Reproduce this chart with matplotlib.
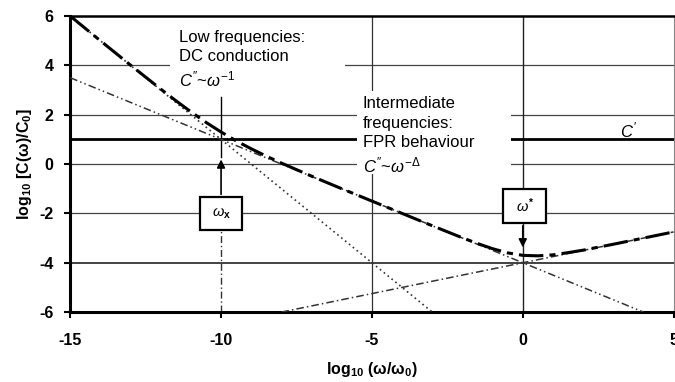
import matplotlib
matplotlib.use("Agg")
from matplotlib import pyplot as plt
from matplotlib.patches import Rectangle

plt.rcParams['font.family'] = ['Liberation Sans', 'DejaVu Sans']
plt.rcParams['mathtext.fontset'] = 'custom'
plt.rcParams['mathtext.rm'] = 'Liberation Sans'
plt.rcParams['mathtext.it'] = 'Liberation Sans:italic'
plt.rcParams['mathtext.bf'] = 'Liberation Sans:bold'
plt.rcParams['axes.unicode_minus'] = False

# axes
x_ticks = [-15, -10, -5, 0, 5]
y_ticks = [-6, -4, -2, 0, 2, 4, 6]

# C' (real part) : flat
c_real_x = [-15, 5]
c_real_y = [1, 1]

# DC conduction C'' ~ w^-1
dc_x = [-15, -3]
dc_y = [6, -6]

# FPR C'' ~ w^-delta
fpr_x = [-15, 4]
fpr_y = [3.5, -6]

# high frequency branch
hf_x = [-8, 5]
hf_y = [-6, -2.75]

# total C''
tot_x = [-15, -14, -13, -12, -11.5, -11, -10.5, -10, -9.5, -9, -8.5, -8, -7, -6,
         -5, -4, -3, -2, -1.5, -1, -0.5, 0, 0.5, 1, 1.5, 2, 3, 4, 5]
tot_y = [6.00, 5.00, 4.01, 3.04, 2.57, 2.12, 1.69, 1.30, 0.94, 0.62, 0.32, 0.04, -0.49, -1.00,
         -1.50, -2.00, -2.50, -2.99, -3.22, -3.43, -3.60, -3.70, -3.72, -3.68, -3.59, -3.49, -3.25, -3.00, -2.75]

fig = plt.figure(figsize=(6.75, 3.82), dpi=100)
ax = fig.add_axes([0.104, 0.183, 0.894, 0.775])
ax.set_xlim(-15, 5)
ax.set_ylim(-6, 6)

# grid
for yv in [4, 2, 0, -2]:
    ax.axhline(yv, color='#444444', lw=0.9, zorder=1)
ax.axhline(-4, color='#222222', lw=1.2, zorder=1)
ax.axvline(-5, color='#333333', lw=0.9, zorder=1)
ax.axvline(0, color='#222222', lw=1.0, zorder=1)
ax.plot(c_real_x, c_real_y, color='black', lw=2.0, zorder=1.2)

# white areas behind the text blocks
ax.add_patch(Rectangle((-11.7, 2.8), 5.8, 2.95, facecolor='white', edgecolor='none', zorder=1.5))
ax.add_patch(Rectangle((-5.5, -0.4), 5.1, 3.35, facecolor='white', edgecolor='none', zorder=1.5))

# curves
ax.plot(dc_x, dc_y, color='#333333', lw=1.2, ls=(0, (1, 2)), zorder=3)
ax.plot(fpr_x, fpr_y, color='#333333', lw=1.1, ls=(0, (5, 2, 1, 2, 1, 2)), zorder=3)
ax.plot(hf_x, hf_y, color='#333333', lw=1.1, ls=(0, (5, 2, 1, 2)), zorder=3)
ax.plot(tot_x, tot_y, color='black', lw=2.2, ls=(0, (8, 2, 2, 2)), zorder=4)

# omega_x marker
ax.plot([-10, -10], [-6, -2.68], color='#333333', lw=1.0, ls=(0, (5, 2, 1, 2)), zorder=2)
ax.plot([-10, -10], [0.3, 2.7], color='black', lw=1.0, zorder=2)
ax.annotate('', xy=(-10, 0.3), xytext=(-10, -1.34),
            arrowprops=dict(arrowstyle='-|>', color='black', lw=1.2, mutation_scale=12), zorder=5)
ax.add_patch(Rectangle((-10.7, -2.68), 1.39, 1.34, facecolor='white', edgecolor='black', lw=1.6, zorder=5))
ax.text(-10, -2.01, r'$\omega_{\mathbf{x}}$', ha='center', va='center', fontsize=10.5, zorder=6)

# omega* marker
ax.add_patch(Rectangle((-0.65, -2.39), 1.42, 1.38, facecolor='white', edgecolor='black', lw=1.6, zorder=5))
ax.text(0.06, -1.7, r'$\omega^{\mathbf{*}}$', ha='center', va='center', fontsize=10.5, zorder=6)
ax.annotate('', xy=(0.0, -3.49), xytext=(0.0, -2.39),
            arrowprops=dict(arrowstyle='-|>', color='black', lw=1.2, mutation_scale=12), zorder=5)

# labels
ax.text(-11.4, 5.42, "Low frequencies:\nDC conduction\n" + r"$C''$~$\omega^{-1}$",
        ha='left', va='top', fontsize=12, linespacing=1.3, zorder=6)
ax.text(-5.31, 2.75, "Intermediate\nfrequencies:\nFPR behaviour\n" + r"$C''$~$\omega^{-\Delta}$",
        ha='left', va='top', fontsize=12, linespacing=1.36, zorder=6)
ax.text(3.5, 1.35, r"$C'$", ha='center', va='center', fontsize=12, zorder=6)

# spines and ticks
ax.spines['left'].set_linewidth(2.2)
ax.spines['bottom'].set_linewidth(2.2)
ax.spines['top'].set_linewidth(1.8)
ax.spines['right'].set_linewidth(0.8)
ax.spines['right'].set_color('#888888')
ax.set_xticks(x_ticks)
ax.set_yticks(y_ticks)
ax.tick_params(axis='both', direction='out', length=4, width=1.5, labelsize=11.5)
ax.tick_params(axis='x', pad=11)
ax.tick_params(axis='y', pad=8)
for lab in ax.get_xticklabels() + ax.get_yticklabels():
    lab.set_fontweight('bold')

ax.set_xlabel(r'$\mathbf{log_{10}\ (\omega/\omega_0)}$', fontsize=11.5, labelpad=9)
ax.set_ylabel(r'$\mathbf{log_{10}\ [C(\omega)/C_0]}$', fontsize=11.5, labelpad=4)

fig.savefig('out.png', dpi=100)
